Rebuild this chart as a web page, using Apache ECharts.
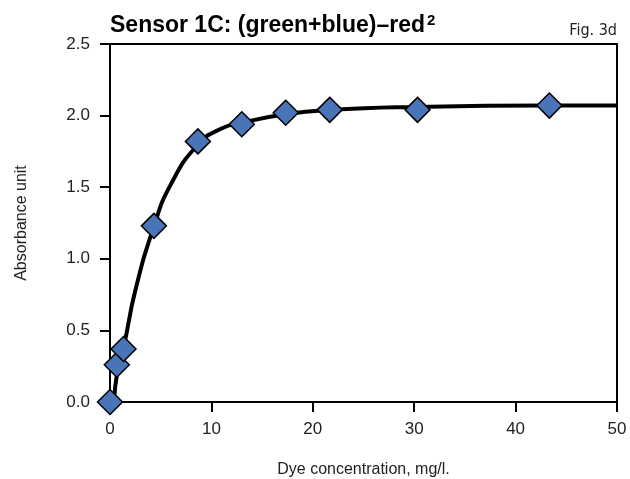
<!DOCTYPE html>
<html>
<head>
<meta charset="utf-8">
<script src="https://cdn.jsdelivr.net/npm/echarts@6/dist/echarts.min.js"></script>
<style>html,body{margin:0;padding:0;background:#fff}#c{width:630px;height:479px}</style>
</head>
<body>
<div id="c"></div>
<script>
// measured data points (dye concentration mg/l, absorbance)
const concentrations = [0, 0.67, 1.33, 4.33, 8.67, 13.0, 17.33, 21.67, 30.33, 43.33];
const absorbance = [0, 0.26, 0.37, 1.23, 1.82, 1.94, 2.02, 2.04, 2.04, 2.07];
// fitted curve
const fitX = [0.4, 0.7, 1.4, 2.5, 4.3, 6.0, 8.7, 11.0, 13.0, 17.3, 21.7, 30.0, 43.0, 50.0];
const fitY = [0.0, 0.20, 0.40, 0.78, 1.22, 1.52, 1.80, 1.91, 1.95, 2.01, 2.04, 2.06, 2.07, 2.07];
const xTicks = [0, 10, 20, 30, 40, 50];
const yTicks = [0.0, 0.5, 1.0, 1.5, 2.0, 2.5];

const chart = echarts.init(document.getElementById('c'), null, {renderer: 'canvas'});
const font = '"Liberation Sans", Arial, Helvetica, sans-serif';
chart.setOption({
  animation: false,
  backgroundColor: '#fff',
  title: [{
    text: '{a|Sensor 1C: (green+blue)–red}{b|2}',
    left: 110, top: 13, padding: 0,
    textStyle: {
      rich: {
        a: {fontFamily: font, fontWeight: 'bold', fontSize: 23, color: '#000'},
        b: {fontFamily: font, fontWeight: 'bold', fontSize: 15, color: '#000', verticalAlign: 'top', padding: [0, 0, 10, 2]}
      }
    }
  }, {
    text: 'Fig. 3d',
    right: 13, top: 23, padding: 0,
    textStyle: {fontFamily: '"Liberation Sans Narrow", "DejaVu Sans Condensed", sans-serif', fontWeight: 'normal', fontSize: 16, color: '#222'}
  }],
  grid: {left: 110, right: 13, top: 44, bottom: 77, outerBoundsMode: 'none', containLabel: false, show: true, borderColor: '#000', borderWidth: 2, backgroundColor: 'transparent'},
  xAxis: {
    type: 'value', min: xTicks[0], max: xTicks[xTicks.length - 1], interval: 10,
    name: 'Dye concentration, mg/l.', nameLocation: 'middle', nameGap: 60,
    nameTextStyle: {fontFamily: font, fontSize: 16, color: '#222'},
    axisLine: {show: true, lineStyle: {color: '#000', width: 2}},
    axisTick: {show: true, inside: false, length: 10, lineStyle: {color: '#000', width: 2}},
    axisLabel: {fontFamily: font, fontSize: 17, color: '#222', margin: 19},
    splitLine: {show: false}
  },
  yAxis: {
    type: 'value', min: yTicks[0], max: yTicks[yTicks.length - 1], interval: 0.5,
    name: 'Absorbance unit', nameLocation: 'middle', nameGap: 80,
    nameTextStyle: {fontFamily: font, fontSize: 16, color: '#222'},
    axisLine: {show: true, lineStyle: {color: '#000', width: 2}},
    axisTick: {show: true, inside: false, length: 10, lineStyle: {color: '#000', width: 2}},
    axisLabel: {fontFamily: font, fontSize: 17, color: '#222', margin: 20, formatter: v => v.toFixed(1)},
    splitLine: {show: false}
  },
  series: [{
    type: 'line',
    data: fitX.map((x, i) => [x, fitY[i]]),
    smooth: 0.5,
    showSymbol: false,
    lineStyle: {color: '#000', width: 4},
    clip: true,
    z: 2
  }, {
    type: 'scatter',
    data: concentrations.map((x, i) => [x, absorbance[i]]),
    symbol: 'diamond',
    symbolSize: 25,
    itemStyle: {color: '#4a74b8', borderColor: '#000', borderWidth: 1.5, opacity: 1},
    clip: false,
    z: 3
  }]
});
</script>
</body>
</html>
